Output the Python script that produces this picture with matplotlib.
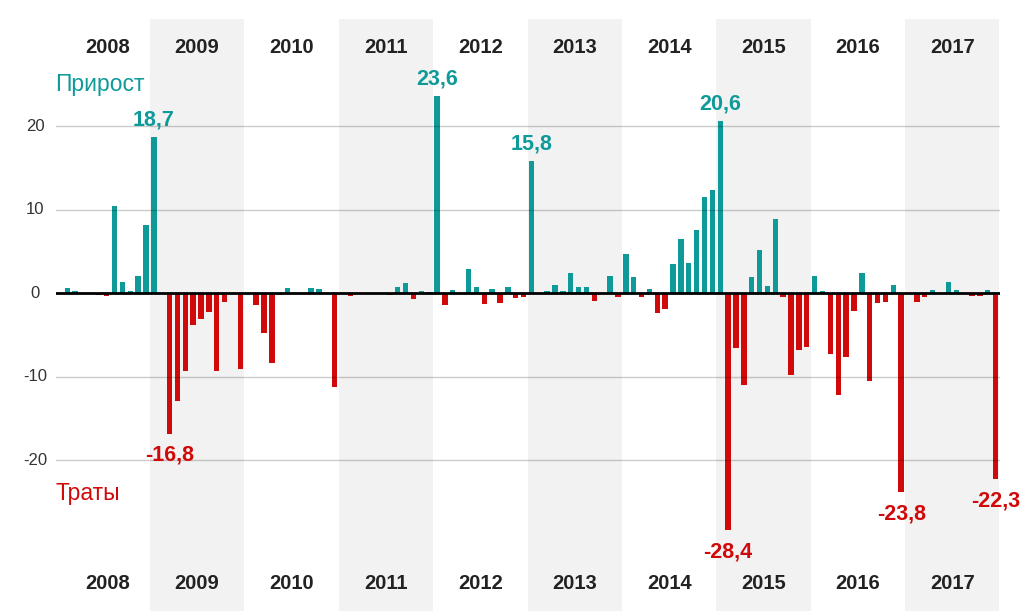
import matplotlib.pyplot as plt
from matplotlib.transforms import blended_transform_factory

plt.rcParams['font.family'] = ['Liberation Sans', 'DejaVu Sans']

years = list(range(2008, 2018))

# monthly change, Jan 2008 .. Dec 2017
values = [
    0, 0.6, 0.3, 0, 0, -0.2, -0.3, 10.4, 1.3, 0.3, 2.1, 8.2,
    18.7, -0.1, -16.8, -12.9, -9.3, -3.8, -3.1, -2.2, -9.3, -1.1, 0, -9.1,
    0, -1.4, -4.7, -8.4, -0.2, 0.6, 0, 0, 0.6, 0.5, 0, -11.2,
    0, -0.3, 0, 0, 0, 0, -0.2, 0.8, 1.2, -0.7, 0.3, 0.2,
    23.6, -1.4, 0.4, 0, 2.9, 0.7, -1.3, 0.55, -1.2, 0.7, -0.6, -0.4,
    15.8, 0, 0.3, 1.0, 0.3, 2.4, 0.8, 0.7, -0.9, 0, 2.1, -0.5,
    4.7, 1.9, -0.5, 0.5, -2.4, -1.9, 3.5, 6.5, 3.6, 7.6, 11.5, 12.4,
    20.6, -28.4, -6.5, -11.0, 2.0, 5.2, 0.9, 8.9, -0.5, -9.8, -6.8, -6.4,
    2.1, 0.3, -7.3, -12.2, -7.6, -2.1, 2.4, -10.5, -1.2, -1.0, 1.0, -23.8,
    0, -1.0, -0.4, 0.4, 0, 1.3, 0.45, 0, -0.3, -0.3, 0.45, -22.3,
]
labelled = [12, 14, 48, 60, 84, 85, 107, 119]
yticks = [20, 10, 0, -10, -20]

TEAL = '#0f9a9a'
RED = '#d00a0a'

fig = plt.figure(figsize=(10.24, 6.14), dpi=100)
ax = fig.add_axes([55.5 / 1024, 3 / 614, 944 / 1024, 592 / 614])
ax.set_xlim(0, 12 * len(years))
ax.set_ylim(-38.05, 32.85)
ax.axis('off')

# alternating year bands
for i, yr in enumerate(years):
    if i % 2 == 1:
        ax.axvspan(12 * i, 12 * (i + 1), color='#f2f2f2', lw=0, zorder=0)

xs = [i + 0.5 for i in range(len(values))]
colors = [TEAL if v >= 0 else RED for v in values]
ax.bar(xs, values, width=0.68, color=colors, zorder=2)

for t in yticks:
    if t == 0:
        ax.axhline(0, color='black', lw=2.0, zorder=4)
    else:
        ax.axhline(t, color='black', alpha=0.2, lw=1.0, zorder=3)

trans = blended_transform_factory(ax.transAxes, ax.transData)
for t in yticks:
    ax.text(-0.0217, t, str(t), transform=trans, ha='center', va='center',
            fontsize=12, color='#333333')

# year labels top and bottom (first one sits a bit right, as in the original)
for i, yr in enumerate(years):
    cx = 12 * i + 6 + (0.6 if i == 0 else 0)
    ax.text(cx, 29.4, str(yr), ha='center', va='center',
            fontsize=14.5, fontweight='bold', color='#222222')
    ax.text(cx, -34.7, str(yr), ha='center', va='center',
            fontsize=14.5, fontweight='bold', color='#222222')

for i in labelled:
    v = values[i]
    txt = f"{v:.1f}".replace('.', ',')
    if v >= 0:
        ax.annotate(txt, (xs[i], v), xytext=(0, 5), textcoords='offset points',
                    ha='center', va='bottom', fontsize=15.5, fontweight='bold',
                    color=TEAL, annotation_clip=False)
    else:
        ax.annotate(txt, (xs[i], v), xytext=(0, -8), textcoords='offset points',
                    ha='center', va='top', fontsize=15.5, fontweight='bold',
                    color=RED, annotation_clip=False)

fig.text(55 / 1024, 1 - 91 / 614, 'Прирост', ha='left', va='baseline',
         fontsize=16.5, color=TEAL)
fig.text(55 / 1024, 1 - 500 / 614, 'Траты', ha='left', va='baseline',
         fontsize=16.5, color=RED)

fig.savefig('out.png', dpi=100)
